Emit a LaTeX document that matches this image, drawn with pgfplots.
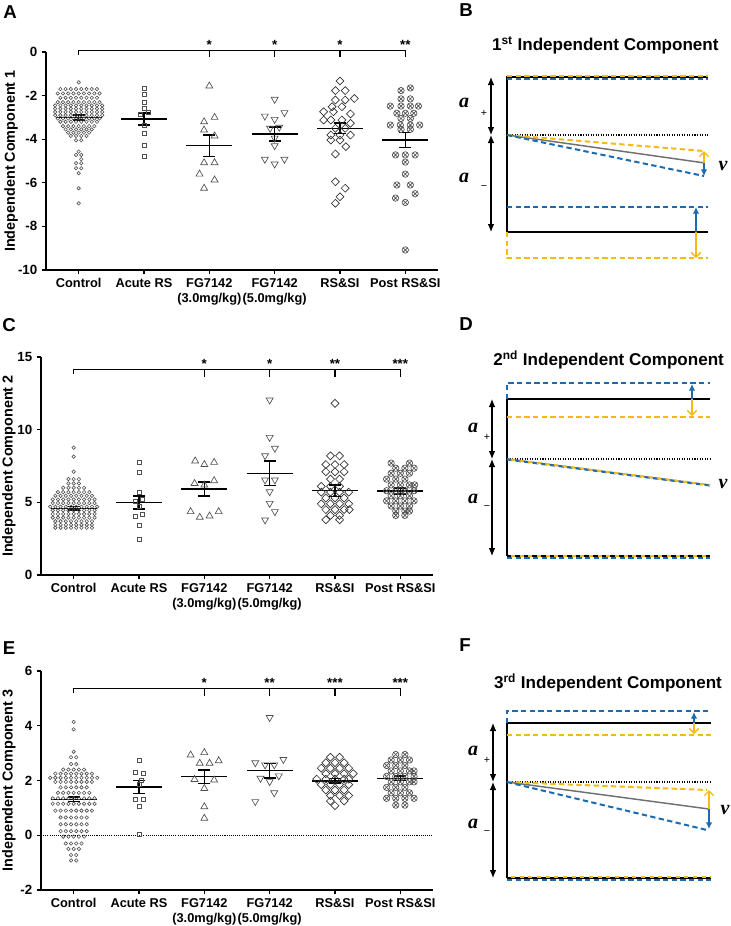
\documentclass[border=0pt]{standalone}
\usepackage{pgfplots}
\pgfplotsset{compat=1.18}
\usepackage{fontspec}
\setmainfont{Liberation Sans}
\newfontfamily\mathbi{Liberation Serif}
\usetikzlibrary{arrows.meta}
\definecolor{cblue}{HTML}{1A6BB0}
\definecolor{cyel}{HTML}{F5BA14}
\definecolor{cgray}{HTML}{707070}
\definecolor{mk}{HTML}{505050}
\tikzset{
  sigstar/.style={anchor=base, font=\bfseries\fontsize{10}{12}\selectfont},
  alab/.style={font=\mathbi\bfseries\itshape\fontsize{15}{15}\selectfont},
  slab/.style={font=\fontsize{8}{8}\selectfont},
}
\pgfplotsset{
  scat/.style={
    scale only axis, width=294pt,
    xmin=-0.5, xmax=5.5, xtick={0,1,2,3,4,5},
    xticklabels={Control, Acute RS, {FG7142\\(3.0mg/kg)}, {FG7142\\(5.0mg/kg)}, RS\&SI, Post RS\&SI},
    xticklabel style={align=center, font=\bfseries\fontsize{9.6}{11}\selectfont},
    yticklabel style={font=\bfseries\fontsize{10}{12}\selectfont},
    /pgf/number format/assume math mode=true,
    axis x line*=bottom, axis y line*=left,
    axis line style={line width=0.9pt},
    tick style={black, line width=0.9pt},
    tick align=outside, major tick length=3pt,
    clip=false, unbounded coords=jump,
    every axis y label/.style={rotate=90, anchor=center, font=\bfseries\fontsize{10.8}{12}\selectfont},
  },
  c0/.style={only marks, mark=o, mark size=1.3pt, mark options={draw=mk, line width=0.45pt}},
  c1/.style={only marks, mark=square, mark size=1.5pt, mark options={draw=mk, line width=0.5pt}},
  c2/.style={only marks, mark=triangle, mark size=3pt, mark options={draw=mk, line width=0.5pt}},
  c3/.style={only marks, mark=triangle, mark size=3pt, mark options={draw=mk, line width=0.5pt, rotate=180}},
  c4/.style={only marks, mark=square, mark size=2.1pt, mark options={draw=black!80, line width=0.5pt, rotate=45}},
  c5/.style={only marks, mark=otimes, mark size=2.4pt, mark options={draw=mk, line width=0.5pt}},
  meanl/.style={black, line width=1.1pt},
  brk/.style={black, line width=0.9pt},
  diag/.style={scale only axis, hide axis, width=218.25pt, height=195pt, xmin=440, xmax=731, y dir=reverse, clip=false},
  blk/.style={black, line width=1.1pt},
  bdash/.style={cblue, line width=1.5pt, dash pattern=on 4pt off 2.5pt},
  ydash/.style={cyel, line width=1.5pt, dash pattern=on 4pt off 2.5pt},
  ydash2/.style={cyel, line width=1.5pt, dash pattern=on 3pt off 3.5pt, dash phase=3.5pt},
  dotl/.style={black, line width=0.8pt, dash pattern=on 0.8pt off 1.1pt},
  gl/.style={cgray, line width=1.1pt},
  yarr/.style={cyel, line width=1pt, -{Straight Barb[length=3.5pt,width=7pt]}},
  barr/.style={cblue, line width=1pt, -{Latex[length=5pt,width=5pt]}},
  aarr/.style={black, line width=0.8pt, {Latex[length=6pt,width=5pt]}-{Latex[length=6pt,width=5pt]}},
}
\begin{document}
\begin{tikzpicture}
\useasboundingbox (0,0) rectangle (548.25pt,-694.5pt);
% ================= A =================
\begin{axis}[scat, height=163.5pt, at={(34.5pt,-202.5pt)}, anchor=south west,
  ymin=-10, ymax=0, ytick={-10,-8,-6,-4,-2,0},
  ylabel={Independent Component 1},
  every axis y label/.append style={at={(axis description cs:-0.089,0.5)}}]
\addplot[c0] coordinates {
(0,-1.39)
(-0.28,-1.7) (-0.2,-1.7) (-0.12,-1.7) (-0.04,-1.7) (0.04,-1.7) (0.12,-1.7) (0.2,-1.7) (0.28,-1.7)
(-0.32,-1.9) (-0.24,-1.9) (-0.16,-1.9) (-0.08,-1.9) (0,-1.9) (0.08,-1.9) (0.16,-1.9) (0.24,-1.9) (0.32,-1.9)
(-0.28,-2.1) (-0.2,-2.1) (-0.12,-2.1) (-0.04,-2.1) (0.04,-2.1) (0.12,-2.1) (0.2,-2.1) (0.28,-2.1)
(-0.32,-2.3) (-0.24,-2.3) (-0.16,-2.3) (-0.08,-2.3) (0,-2.3) (0.08,-2.3) (0.16,-2.3) (0.24,-2.3) (0.32,-2.3)
(-0.36,-2.45) (-0.28,-2.45) (-0.2,-2.45) (-0.12,-2.45) (-0.04,-2.45) (0.04,-2.45) (0.12,-2.45) (0.2,-2.45) (0.28,-2.45) (0.36,-2.45)
(-0.36,-2.6) (-0.28,-2.6) (-0.2,-2.6) (-0.12,-2.6) (-0.04,-2.6) (0.04,-2.6) (0.12,-2.6) (0.2,-2.6) (0.28,-2.6) (0.36,-2.6)
(-0.36,-2.75) (-0.28,-2.75) (-0.2,-2.75) (-0.12,-2.75) (-0.04,-2.75) (0.04,-2.75) (0.12,-2.75) (0.2,-2.75) (0.28,-2.75) (0.36,-2.75)
(-0.36,-2.9) (-0.28,-2.9) (-0.2,-2.9) (-0.12,-2.9) (-0.04,-2.9) (0.04,-2.9) (0.12,-2.9) (0.2,-2.9) (0.28,-2.9) (0.36,-2.9)
(-0.32,-3.05) (-0.24,-3.05) (-0.16,-3.05) (-0.08,-3.05) (0,-3.05) (0.08,-3.05) (0.16,-3.05) (0.24,-3.05) (0.32,-3.05)
(-0.28,-3.2) (-0.2,-3.2) (-0.12,-3.2) (-0.04,-3.2) (0.04,-3.2) (0.12,-3.2) (0.2,-3.2) (0.28,-3.2)
(-0.24,-3.4) (-0.16,-3.4) (-0.08,-3.4) (0,-3.4) (0.08,-3.4) (0.16,-3.4) (0.24,-3.4)
(-0.2,-3.55) (-0.12,-3.55) (-0.04,-3.55) (0.04,-3.55) (0.12,-3.55) (0.2,-3.55)
(-0.16,-3.7) (-0.08,-3.7) (0,-3.7) (0.08,-3.7) (0.16,-3.7)
(-0.12,-3.85) (-0.04,-3.85) (0.04,-3.85) (0.12,-3.85)
(-0.04,-4.05) (0.04,-4.05)
(0,-4.57) (-0.04,-4.72) (0.04,-4.72) (0.04,-4.92) (-0.04,-5.1) (0.04,-5.1)
(-0.04,-5.33) (0.04,-5.33) (0,-5.56) (0,-6.25) (0,-6.94)
};
\addplot[c1] coordinates {(1,-1.67) (1,-1.94) (1,-2.32) (1,-2.6) (0.94,-2.85) (1.06,-2.75) (1,-3.35) (1,-3.73) (1,-4.3) (1,-4.8)};
\addplot[c2] coordinates {(2,-1.56) (1.92,-3.2) (2.08,-3.0) (1.92,-3.58) (2.08,-3.85) (1.92,-5.08) (2.08,-5.08) (1.85,-5.6) (2.08,-5.87) (1.92,-6.25)};
\addplot[c3] coordinates {(3,-2.17) (2.85,-2.94) (3.15,-2.78) (3,-3.09) (2.93,-3.5) (3.07,-3.45) (3,-3.95) (3,-4.3) (2.85,-4.92) (3.15,-4.92) (3,-5.14)};
\addplot[c4] coordinates {
(4,-1.33) (3.93,-1.77) (4.08,-1.77) (4.22,-2.13) (3.93,-2.2) (4.08,-2.2)
(3.88,-2.51) (4.03,-2.51) (3.75,-2.74) (3.9,-2.74) (4.16,-2.84)
(3.75,-3.12) (3.86,-3.12) (4.03,-3.12) (4.16,-3.27) (3.93,-3.5) (4.08,-3.5)
(3.86,-3.81) (4,-3.81) (4.16,-3.81) (3.86,-4.04) (4,-4.04) (4.09,-4.34)
(3.93,-4.68) (3.93,-5.95) (4.08,-6.25) (4,-6.64) (3.93,-6.94)};
\addplot[c5] coordinates {
(5.077,-1.65) (4.934,-1.77) (4.934,-2.15) (5.077,-2.15)
(4.77,-2.48) (4.934,-2.48) (5.077,-2.48) (5.2,-2.48)
(4.87,-2.81) (5,-2.81) (5.13,-2.81) (4.934,-3.05) (5.077,-3.05)
(4.77,-3.35) (4.923,-3.35) (5.077,-3.35) (5.22,-3.35) (4.934,-3.55) (5.077,-3.55)
(4.85,-4.72) (5,-4.72) (5.15,-4.72) (5,-5.05) (5,-5.6)
(4.87,-6.1) (5.077,-6.1) (5.15,-6.5) (4.85,-6.7) (5,-6.9) (5,-9.08)};
\addplot[meanl] coordinates {
(-0.35,-3.0) (0.35,-3.0) (nan,nan) (-0.09,-2.88) (0.09,-2.88) (nan,nan) (0,-2.88) (0,-3.12) (nan,nan) (-0.09,-3.12) (0.09,-3.12) (nan,nan)
(0.65,-3.07) (1.35,-3.07) (nan,nan) (0.91,-2.8) (1.09,-2.8) (nan,nan) (1,-2.8) (1,-3.34) (nan,nan) (0.91,-3.34) (1.09,-3.34) (nan,nan)
(1.65,-4.3) (2.35,-4.3) (nan,nan) (1.91,-3.81) (2.09,-3.81) (nan,nan) (2,-3.81) (2,-4.79) (nan,nan) (1.91,-4.79) (2.09,-4.79) (nan,nan)
(2.65,-3.76) (3.35,-3.76) (nan,nan) (2.91,-3.43) (3.09,-3.43) (nan,nan) (3,-3.43) (3,-4.09) (nan,nan) (2.91,-4.09) (3.09,-4.09) (nan,nan)
(3.65,-3.5) (4.35,-3.5) (nan,nan) (3.91,-3.25) (4.09,-3.25) (nan,nan) (4,-3.25) (4,-3.75) (nan,nan) (3.91,-3.75) (4.09,-3.75) (nan,nan)
(4.65,-4.04) (5.35,-4.04) (nan,nan) (4.91,-3.69) (5.09,-3.69) (nan,nan) (5,-3.69) (5,-4.39) (nan,nan) (4.91,-4.39) (5.09,-4.39)};
\addplot[brk] coordinates {(0,-0.12) (0,0.08) (5,0.08) (5,-0.22) (nan,nan) (2,0.08) (2,-0.22) (nan,nan) (3,0.08) (3,-0.22) (nan,nan) (4,0.08) (4,-0.22)};
\node[sigstar] at (axis cs:2,0.12) {*};
\node[sigstar] at (axis cs:3,0.12) {*};
\node[sigstar] at (axis cs:4,0.12) {*};
\node[sigstar] at (axis cs:5,0.12) {**};
\end{axis}
% ================= C =================
\begin{axis}[scat, height=163.5pt, at={(30.75pt,-431.25pt)}, anchor=south west,
  ymin=0, ymax=15, ytick={0,5,10,15},
  ylabel={Independent Component 2},
  every axis y label/.append style={at={(axis description cs:-0.082,0.5)}}]
\addplot[c0] coordinates {
(0,8.76) (0,8.14) (0,7.11)
(-0.08,6.6) (0,6.6) (0.08,6.6)
(-0.08,6.3) (0,6.3) (0.08,6.3)
(-0.16,6.0) (-0.08,6.0) (0,6.0) (0.08,6.0) (0.16,6.0)
(-0.24,5.7) (-0.16,5.7) (-0.08,5.7) (0,5.7) (0.08,5.7) (0.16,5.7) (0.24,5.7)
(-0.28,5.45) (-0.2,5.45) (-0.12,5.45) (-0.04,5.45) (0.04,5.45) (0.12,5.45) (0.2,5.45) (0.28,5.45)
(-0.32,5.2) (-0.24,5.2) (-0.16,5.2) (-0.08,5.2) (0,5.2) (0.08,5.2) (0.16,5.2) (0.24,5.2) (0.32,5.2)
(-0.32,4.95) (-0.24,4.95) (-0.16,4.95) (-0.08,4.95) (0,4.95) (0.08,4.95) (0.16,4.95) (0.24,4.95) (0.32,4.95)
(-0.36,4.7) (-0.28,4.7) (-0.2,4.7) (-0.12,4.7) (-0.04,4.7) (0.04,4.7) (0.12,4.7) (0.2,4.7) (0.28,4.7) (0.36,4.7)
(-0.32,4.45) (-0.24,4.45) (-0.16,4.45) (-0.08,4.45) (0,4.45) (0.08,4.45) (0.16,4.45) (0.24,4.45) (0.32,4.45)
(-0.32,4.2) (-0.24,4.2) (-0.16,4.2) (-0.08,4.2) (0,4.2) (0.08,4.2) (0.16,4.2) (0.24,4.2) (0.32,4.2)
(-0.32,3.95) (-0.24,3.95) (-0.16,3.95) (-0.08,3.95) (0,3.95) (0.08,3.95) (0.16,3.95) (0.24,3.95) (0.32,3.95)
(-0.28,3.7) (-0.2,3.7) (-0.12,3.7) (-0.04,3.7) (0.04,3.7) (0.12,3.7) (0.2,3.7) (0.28,3.7)
(-0.28,3.45) (-0.2,3.45) (-0.12,3.45) (-0.04,3.45) (0.04,3.45) (0.12,3.45) (0.2,3.45) (0.28,3.45)
(-0.28,3.25) (-0.2,3.25) (-0.12,3.25) (-0.04,3.25) (0.04,3.25) (0.12,3.25) (0.2,3.25) (0.28,3.25)
};
\addplot[c1] coordinates {(1,7.73) (1,7.04) (1,5.66) (1.05,5.2) (0.95,5.05) (1,4.75) (1.05,4.2) (0.95,4.05) (1,3.44) (1,2.46)};
\addplot[c2] coordinates {(1.86,7.85) (2,7.6) (2.15,7.75) (1.85,6.3) (2,6.19) (2.15,6.49) (1.79,4.36) (1.93,3.97) (2.08,4.06) (2.22,4.36)};
\addplot[c3] coordinates {(3,12.04) (3,9.47) (3.08,8.72) (2.93,8.21) (2.93,6.54) (3.08,6.54) (3,5.73) (3,4.93) (3.08,4.36) (2.93,3.79)};
\addplot[c4] coordinates {
(4,11.81) (3.93,8.2) (4.07,8.2) (3.86,7.6) (4,7.6) (4.14,7.6) (3.86,7.1) (4,7.1) (4.14,7.1)
(3.93,6.6) (4.07,6.6) (3.79,6.1) (3.93,6.1) (4.07,6.1)
(3.79,5.7) (3.93,5.7) (4.07,5.7) (4.21,5.7) (3.86,5.3) (4,5.3) (4.14,5.3)
(3.79,4.9) (3.93,4.9) (4.07,4.9) (4.21,4.9) (3.86,4.5) (4,4.5) (4.14,4.5) (4.22,4.5)
(3.93,4.1) (4.07,4.1) (3.86,3.8) (4.07,3.8)};
\addplot[c5] coordinates {
(4.86,7.7) (5.14,7.7) (4.93,7.35) (5.07,7.35) (5.21,7.35) (4.86,7.0) (5,7.0) (5.14,7.0)
(4.79,6.6) (4.93,6.6) (5.07,6.6) (4.86,6.2) (5,6.2) (5.14,6.2) (5.22,6.2)
(4.79,5.8) (4.93,5.8) (5.07,5.8) (5.21,5.8) (4.86,5.45) (5,5.45) (5.14,5.45)
(4.79,5.1) (4.93,5.1) (5.07,5.1) (5.21,5.1) (4.86,4.75) (5,4.75) (5.14,4.75)
(4.93,4.4) (5.07,4.4) (5.14,4.4) (4.93,4.1) (5.07,4.1)};
\addplot[meanl] coordinates {
(-0.35,4.59) (0.35,4.59) (nan,nan) (-0.09,4.71) (0.09,4.71) (nan,nan) (0,4.71) (0,4.47) (nan,nan) (-0.09,4.47) (0.09,4.47) (nan,nan)
(0.65,5.0) (1.35,5.0) (nan,nan) (0.91,5.45) (1.09,5.45) (nan,nan) (1,5.45) (1,4.55) (nan,nan) (0.91,4.55) (1.09,4.55) (nan,nan)
(1.65,5.92) (2.35,5.92) (nan,nan) (1.91,6.41) (2.09,6.41) (nan,nan) (2,6.41) (2,5.43) (nan,nan) (1.91,5.43) (2.09,5.43) (nan,nan)
(2.65,7.0) (3.35,7.0) (nan,nan) (2.91,7.83) (3.09,7.83) (nan,nan) (3,7.83) (3,6.17) (nan,nan) (2.91,6.17) (3.09,6.17) (nan,nan)
(3.65,5.8) (4.35,5.8) (nan,nan) (3.91,6.2) (4.09,6.2) (nan,nan) (4,6.2) (4,5.4) (nan,nan) (3.91,5.4) (4.09,5.4) (nan,nan)
(4.65,5.78) (5.35,5.78) (nan,nan) (4.91,6.0) (5.09,6.0) (nan,nan) (5,6.0) (5,5.56) (nan,nan) (4.91,5.56) (5.09,5.56)};
\addplot[brk] coordinates {(0,13.85) (0,14.15) (5,14.15) (5,13.65) (nan,nan) (2,14.15) (2,13.65) (nan,nan) (3,14.15) (3,13.65) (nan,nan) (4,14.15) (4,13.65)};
\node[sigstar] at (axis cs:2,14.2) {*};
\node[sigstar] at (axis cs:3,14.2) {*};
\node[sigstar] at (axis cs:4,14.2) {**};
\node[sigstar] at (axis cs:5,14.2) {***};
\end{axis}
% ================= E =================
\begin{axis}[scat, height=164.25pt, at={(30.75pt,-667.5pt)}, anchor=south west,
  ymin=-2, ymax=6, ytick={-2,0,2,4,6},
  ylabel={Independent Component 3},
  every axis y label/.append style={at={(axis description cs:-0.082,0.5)}}]
\addplot[black, line width=0.5pt, dash pattern=on 0.8pt off 0.8pt] coordinates {(-0.5,0) (5.5,0)};
\addplot[c0] coordinates {
(0,4.14) (0,3.87) (0,3.05)
(-0.04,2.85) (0.04,2.85) (-0.04,2.6) (0.04,2.6)
(-0.16,2.4) (-0.08,2.4) (0,2.4) (0.08,2.4) (0.16,2.4)
(-0.28,2.25) (-0.2,2.25) (-0.12,2.25) (-0.04,2.25) (0.04,2.25) (0.12,2.25) (0.2,2.25) (0.28,2.25)
(-0.36,2.1) (-0.28,2.1) (-0.2,2.1) (-0.12,2.1) (-0.04,2.1) (0.04,2.1) (0.12,2.1) (0.2,2.1) (0.28,2.1) (0.36,2.1)
(-0.28,1.95) (-0.2,1.95) (-0.12,1.95) (-0.04,1.95) (0.04,1.95) (0.12,1.95) (0.2,1.95) (0.28,1.95)
(-0.2,1.75) (-0.12,1.75) (-0.04,1.75) (0.04,1.75) (0.12,1.75) (0.2,1.75)
(-0.24,1.55) (-0.16,1.55) (-0.08,1.55) (0,1.55) (0.08,1.55) (0.16,1.55) (0.24,1.55)
(-0.32,1.35) (-0.24,1.35) (-0.16,1.35) (-0.08,1.35) (0,1.35) (0.08,1.35) (0.16,1.35) (0.24,1.35) (0.32,1.35)
(-0.32,1.15) (-0.24,1.15) (-0.16,1.15) (-0.08,1.15) (0,1.15) (0.08,1.15) (0.16,1.15) (0.24,1.15) (0.32,1.15)
(-0.28,0.9) (-0.2,0.9) (-0.12,0.9) (-0.04,0.9) (0.04,0.9) (0.12,0.9) (0.2,0.9) (0.28,0.9)
(-0.2,0.65) (-0.12,0.65) (-0.04,0.65) (0.04,0.65) (0.12,0.65) (0.2,0.65)
(-0.2,0.4) (-0.12,0.4) (-0.04,0.4) (0.04,0.4) (0.12,0.4) (0.2,0.4)
(-0.2,0.15) (-0.12,0.15) (-0.04,0.15) (0.04,0.15) (0.12,0.15) (0.2,0.15)
(-0.16,-0.05) (-0.08,-0.05) (0,-0.05) (0.08,-0.05) (0.16,-0.05)
(-0.12,-0.3) (-0.04,-0.3) (0.04,-0.3) (0.12,-0.3)
(-0.08,-0.5) (0,-0.5) (0.08,-0.5)
(-0.04,-0.72) (0.04,-0.72) (-0.04,-0.92) (0.04,-0.92)
};
\addplot[c1] coordinates {(1,2.72) (0.95,2.3) (1.07,2.28) (1.04,2.02) (1,1.85) (0.95,1.31) (1.07,1.33) (1,1.04) (1,0.05)};
\addplot[c2] coordinates {(1.79,2.93) (2,3.02) (1.93,2.63) (2.08,2.63) (2.22,2.72) (1.85,2.04) (2.15,2.02) (2,1.71) (2,1.04) (2,0.62)};
\addplot[c3] coordinates {(3,4.3) (2.78,2.65) (2.93,2.57) (3.07,2.57) (3.21,2.77) (2.86,2.08) (3,1.96) (3.14,2.17) (3.07,1.55) (2.78,1.23)};
\addplot[c4] coordinates {
(3.93,2.85) (4.07,2.85) (3.86,2.65) (4,2.65) (4.14,2.65)
(3.79,2.45) (3.93,2.45) (4.07,2.45) (4.21,2.45) (3.86,2.25) (4,2.25) (4.14,2.25) (4.28,2.25)
(3.72,2.05) (3.86,2.05) (4,2.05) (4.14,2.05) (4.21,2.05)
(3.79,1.85) (3.93,1.85) (4.07,1.85) (4.21,1.85) (3.86,1.65) (4,1.65) (4.14,1.65)
(3.93,1.45) (4.07,1.45) (4.21,1.45) (3.93,1.25) (4.14,1.25) (4,1.08)};
\addplot[c5] coordinates {
(4.93,2.95) (5.07,2.95) (4.86,2.75) (5,2.75) (5.14,2.75) (4.79,2.55) (4.93,2.55) (5.07,2.55)
(4.86,2.35) (5,2.35) (5.14,2.35) (5.21,2.35) (4.79,2.15) (4.93,2.15) (5.07,2.15) (5.21,2.15)
(4.86,1.95) (5,1.95) (5.14,1.95) (5.21,1.95) (4.79,1.75) (4.93,1.75) (5.07,1.75)
(4.86,1.55) (5,1.55) (5.14,1.55) (4.79,1.35) (4.93,1.35) (5.07,1.35) (5.21,1.35) (4.93,1.1) (5.07,1.1)};
\addplot[meanl] coordinates {
(-0.35,1.31) (0.35,1.31) (nan,nan) (-0.09,1.39) (0.09,1.39) (nan,nan) (0,1.39) (0,1.23) (nan,nan) (-0.09,1.23) (0.09,1.23) (nan,nan)
(0.65,1.77) (1.35,1.77) (nan,nan) (0.91,2.01) (1.09,2.01) (nan,nan) (1,2.01) (1,1.53) (nan,nan) (0.91,1.53) (1.09,1.53) (nan,nan)
(1.65,2.14) (2.35,2.14) (nan,nan) (1.91,2.39) (2.09,2.39) (nan,nan) (2,2.39) (2,1.89) (nan,nan) (1.91,1.89) (2.09,1.89) (nan,nan)
(2.65,2.36) (3.35,2.36) (nan,nan) (2.91,2.62) (3.09,2.62) (nan,nan) (3,2.62) (3,2.10) (nan,nan) (2.91,2.10) (3.09,2.10) (nan,nan)
(3.65,1.99) (4.35,1.99) (nan,nan) (3.91,2.07) (4.09,2.07) (nan,nan) (4,2.07) (4,1.91) (nan,nan) (3.91,1.91) (4.09,1.91) (nan,nan)
(4.65,2.08) (5.35,2.08) (nan,nan) (4.91,2.16) (5.09,2.16) (nan,nan) (5,2.16) (5,2.0) (nan,nan) (4.91,2.0) (5.09,2.0)};
\addplot[brk] coordinates {(0,5.2) (0,5.37) (5,5.37) (5,5.09) (nan,nan) (2,5.37) (2,5.09) (nan,nan) (3,5.37) (3,5.09) (nan,nan) (4,5.37) (4,5.09)};
\node[sigstar] at (axis cs:2,5.4) {*};
\node[sigstar] at (axis cs:3,5.4) {**};
\node[sigstar] at (axis cs:4,5.4) {***};
\node[sigstar] at (axis cs:5,5.4) {***};
\end{axis}
% ================= B =================
\begin{axis}[diag, ymin=20, ymax=280, at={(330pt,-210pt)}, anchor=south west]
\addplot[blk] coordinates {(507,77) (708,77)};
\addplot[blk] coordinates {(507,232) (708,232)};
\addplot[blk] coordinates {(507,76) (507,232)};
\addplot[ydash] coordinates {(507,232) (507,258) (708,258)};
\addplot[bdash] coordinates {(507,207) (708,207)};
\addplot[ydash] coordinates {(507,75.5) (708,75.5)};
\addplot[bdash] coordinates {(507,78.5) (708,78.5)};
\addplot[dotl] coordinates {(507,135) (708,135)};
\addplot[gl] coordinates {(507,135) (705,163)};
\addplot[ydash] coordinates {(507,135) (704,151)};
\addplot[bdash] coordinates {(507,135) (704,176)};
\addplot[yarr] coordinates {(704,163) (704,151)};
\addplot[barr] coordinates {(704,163) (704,176)};
\addplot[barr] coordinates {(696,232) (696,207)};
\addplot[yarr] coordinates {(696,232) (696,258)};
\addplot[aarr] coordinates {(491,77) (491,135)};
\addplot[aarr] coordinates {(491,135) (491,232)};
\node[alab] at (axis cs:464,103) {a};
\node[slab] at (axis cs:484,113) {+};
\node[alab] at (axis cs:464,178) {a};
\node[slab] at (axis cs:484,188) {−};
\node[alab] at (axis cs:723,166) {v};
\end{axis}
% ================= D =================
\begin{axis}[diag, ymin=340, ymax=600, at={(330pt,-450pt)}, anchor=south west]
\addplot[blk] coordinates {(507,399) (710,399)};
\addplot[blk] coordinates {(507,399) (507,556)};
\addplot[blk] coordinates {(507,556) (710,556)};
\addplot[bdash] coordinates {(507,399) (507,383) (710,383)};
\addplot[ydash] coordinates {(507,416.7) (710,416.7)};
\addplot[barr] coordinates {(692,399) (692,384)};
\addplot[yarr] coordinates {(692,399) (692,416)};
\addplot[dotl] coordinates {(507,459) (710,459)};
\addplot[gl] coordinates {(507,459) (710,485)};
\addplot[bdash] coordinates {(507,459.5) (710,485.5)};
\addplot[ydash2] coordinates {(507,459) (710,485)};
\addplot[bdash] coordinates {(507,557.5) (710,557.5)};
\addplot[ydash2] coordinates {(507,555.5) (710,555.5)};
\addplot[aarr] coordinates {(492,399) (492,459)};
\addplot[aarr] coordinates {(492,459) (492,556)};
\node[alab] at (axis cs:473,428) {a};
\node[slab] at (axis cs:487,437) {+};
\node[alab] at (axis cs:473,499) {a};
\node[slab] at (axis cs:487,508) {−};
\node[alab] at (axis cs:723,484) {v};
\end{axis}
% ================= F =================
\begin{axis}[diag, ymin=660, ymax=920, at={(330pt,-690pt)}, anchor=south west]
\addplot[blk] coordinates {(507,723) (711,723)};
\addplot[blk] coordinates {(507,723) (507,878)};
\addplot[blk] coordinates {(507,878) (711,878)};
\addplot[bdash] coordinates {(507,723) (507,711) (711,711)};
\addplot[ydash] coordinates {(507,735) (711,735)};
\addplot[barr] coordinates {(694,723) (694,712)};
\addplot[yarr] coordinates {(694,723) (694,734)};
\addplot[dotl] coordinates {(507,782) (711,782)};
\addplot[gl] coordinates {(507,782) (709,809)};
\addplot[ydash] coordinates {(507,782) (707,790)};
\addplot[bdash] coordinates {(507,782) (707,830)};
\addplot[yarr] coordinates {(709,809) (709,790)};
\addplot[barr] coordinates {(709,809) (709,829)};
\addplot[bdash] coordinates {(507,879.5) (711,879.5)};
\addplot[ydash2] coordinates {(507,877) (711,877)};
\addplot[aarr] coordinates {(493,723) (493,782)};
\addplot[aarr] coordinates {(493,782) (493,878)};
\node[alab] at (axis cs:473,751) {a};
\node[slab] at (axis cs:487,760) {+};
\node[alab] at (axis cs:473,824) {a};
\node[slab] at (axis cs:487,833) {−};
\node[alab] at (axis cs:725,810) {v};
\end{axis}
% ================= labels =================
\node[font=\bfseries\fontsize{14}{14}\selectfont] at (7.5pt,-9pt) {A};
\node[font=\bfseries\fontsize{14}{14}\selectfont] at (6.75pt,-243.75pt) {C};
\node[font=\bfseries\fontsize{14}{14}\selectfont] at (6.75pt,-486pt) {E};
\node[font=\bfseries\fontsize{14}{14}\selectfont] at (349.5pt,-7.5pt) {B};
\node[font=\bfseries\fontsize{14}{14}\selectfont] at (349.5pt,-243pt) {D};
\node[font=\bfseries\fontsize{14}{14}\selectfont] at (348.75pt,-483.75pt) {F};
\node[font=\bfseries\fontsize{12.8}{14}\selectfont] at (454pt,-33.75pt) {1\textsuperscript{st} Independent Component};
\node[font=\bfseries\fontsize{12.8}{14}\selectfont] at (456.5pt,-270pt) {2\textsuperscript{nd} Independent Component};
\node[font=\bfseries\fontsize{12.8}{14}\selectfont] at (456pt,-512.25pt) {3\textsuperscript{rd} Independent Component};
\end{tikzpicture}
\end{document}
